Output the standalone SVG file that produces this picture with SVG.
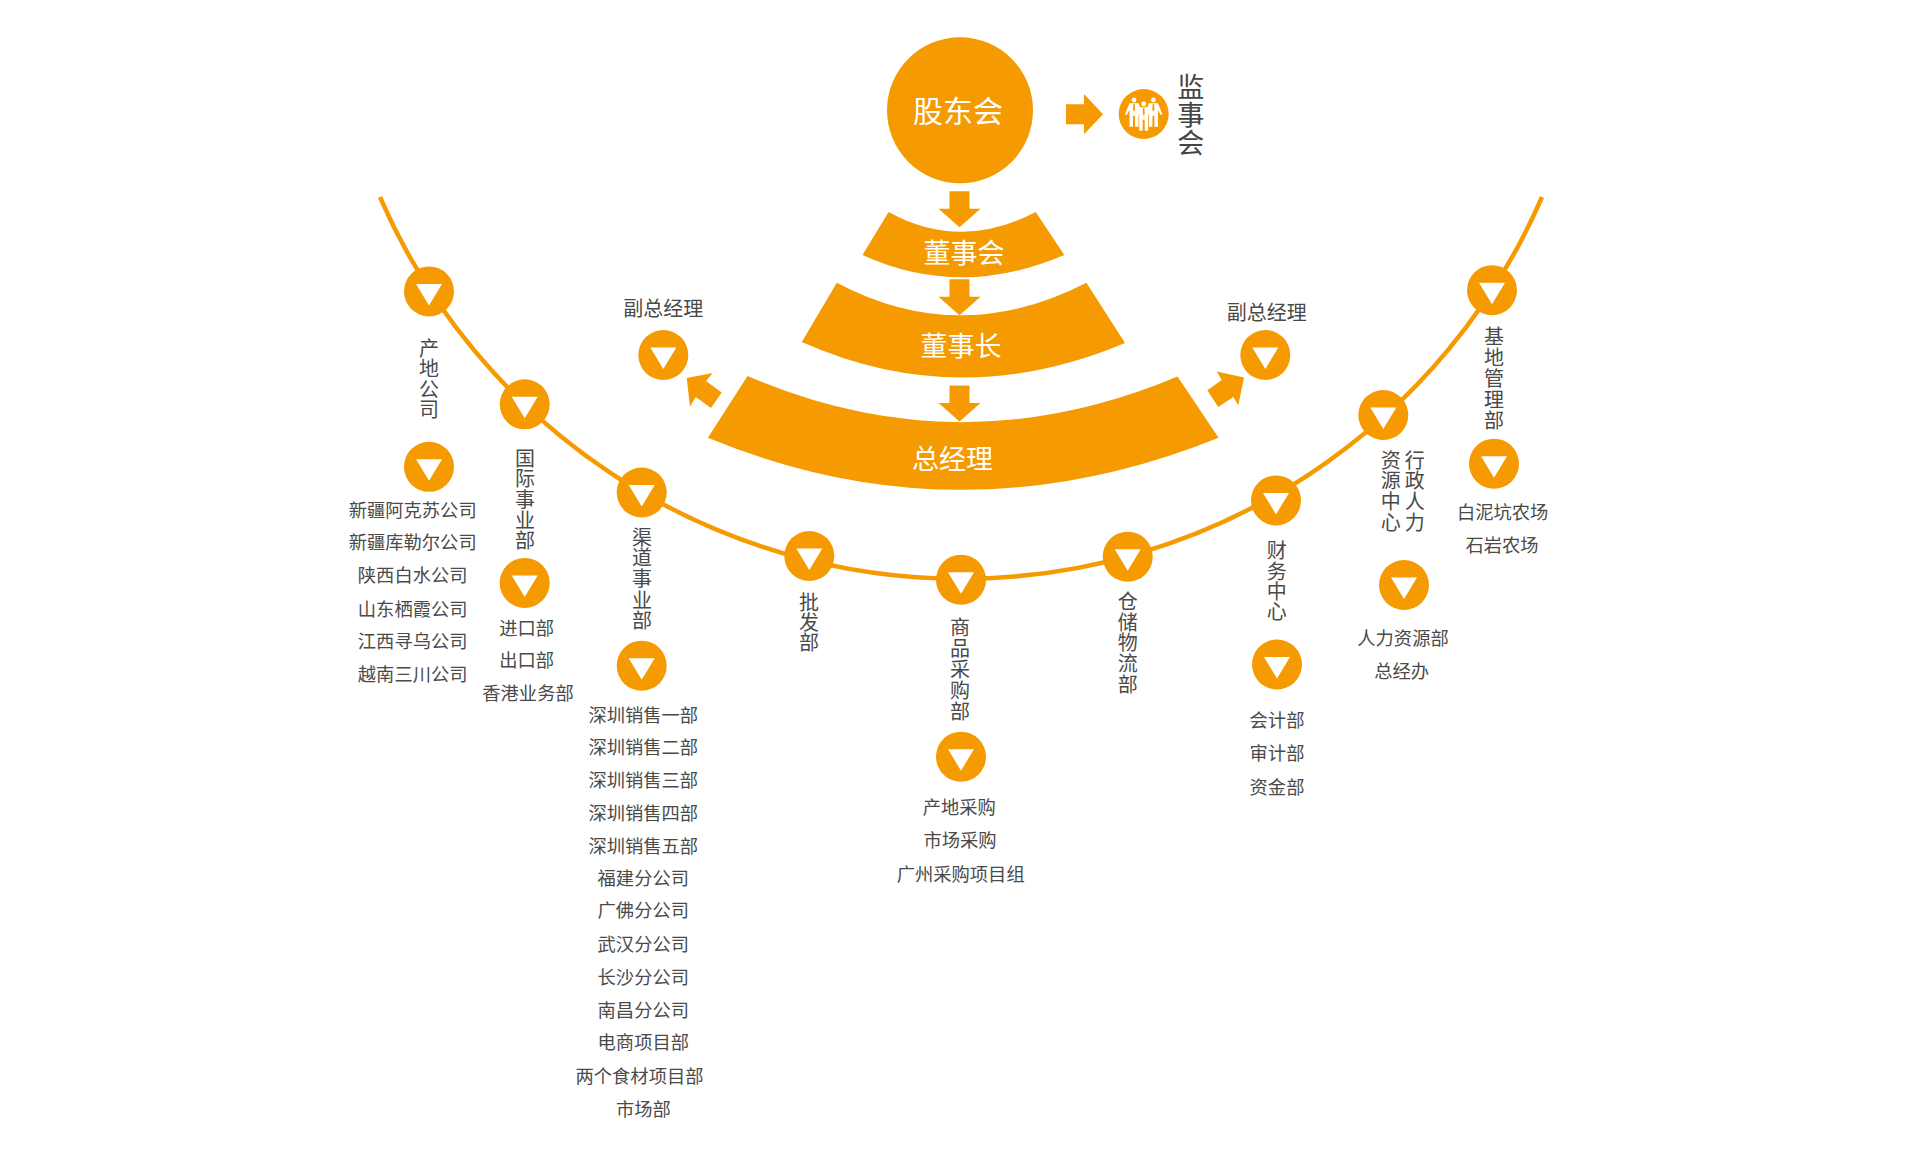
<svg xmlns="http://www.w3.org/2000/svg" xmlns:xlink="http://www.w3.org/1999/xlink" width="1920" height="1161" viewBox="0 0 1920 1161">
<style>
text{font-family:"Noto Sans CJK SC","Microsoft YaHei","Liberation Sans",sans-serif;text-anchor:middle;dominant-baseline:central;transform:translateY(-2px)}
.t{font-size:18.3px;fill:#4a4a4a}
.g{font-size:20px;fill:#4a4a4a}
.w{fill:#fff}
.o{fill:#f59a00}
.l{fill:none;stroke:#f59a00;stroke-width:4.5}
</style>
<defs>
<g id="dot"><circle r="25" fill="#f59a00"/><polygon points="-13,-7.5 13,-7.5 0,14" fill="#fff"/></g>
<path id="dn" d="M-10,0H10V17.4H21L0,36H0L-21,17.4H-10Z" fill="#f59a00"/>
<g id="man" fill="#fff"><circle cx="0" cy="2.3" r="2.4"/><path d="M-4.5,5.5H4.5L9,16.5L7.2,17.3L4.5,12V29H1V18H-1V29H-4.5V12L-7.2,17.3L-9,16.5Z"/><path d="M-0.7,6H0.7L1,12L0,14L-1,12Z" fill="#f59a00"/></g>
</defs>
<g id="connectors">
<path class="l" d="M380,197A633,633 0 0 0 1542,197"/>
<use xlink:href="#dn" href="#dn" x="959.5" y="191.3"/>
<use xlink:href="#dn" href="#dn" x="959.5" y="279.3"/>
<use xlink:href="#dn" href="#dn" x="959.5" y="385.5"/>
<polygon class="o" points="1066,104.3 1084,104.3 1084,94 1103,114.3 1084,134.3 1084,124.3 1066,124.3"/>
<polygon class="o" points="686.7,378 712.7,373 706,381 721.7,392.5 711,407.9 695.7,397 690,406.8"/>
<polygon class="o" points="1244,377.6 1216.7,371.4 1221.7,380 1207.3,390.2 1218.3,407 1233.3,397 1238.3,405.3"/>
</g>
<g id="gudong"><circle class="o" cx="960" cy="110.3" r="73"/><text class="w" x="958" y="111" font-size="30">股东会</text></g>
<g id="jianshi"><circle class="o" cx="1143.7" cy="114" r="25"/>
<use xlink:href="#man" href="#man" x="1134" y="97.7"/><use xlink:href="#man" href="#man" x="1153.4" y="97.7"/><use xlink:href="#man" href="#man" x="1143.7" y="101.7"/>
<text x="1190.7 1190.7 1190.7" y="87.7 115.7 143.3" font-size="27" fill="#444">监事会</text></g>
<g id="dongshihui"><path class="o" d="M888.6,212 Q960,251.5 1035.7,212 L1064.3,255 Q960,299.5 862.5,255Z"/><text class="w" x="964" y="253" font-size="27">董事会</text></g>
<g id="dongshizhang"><path class="o" d="M836.8,282.7 Q960,348 1086.4,282.7 L1125,343 Q960,412.5 801.8,342Z"/><text class="w" x="961" y="346.7" font-size="27">董事长</text></g>
<g id="zongjingli"><path class="o" d="M747.5,376 Q960,468 1177.5,376.5 L1218.6,437.7 Q960,542 707.9,437.7Z"/><text class="w" x="952.5" y="459" font-size="27">总经理</text></g>
<g id="fuzong-l"><text class="g" x="663.3" y="309.3">副总经理</text><use xlink:href="#dot" href="#dot" x="663.3" y="355"/></g>
<g id="fuzong-r"><text class="g" x="1266.7" y="313">副总经理</text><use xlink:href="#dot" href="#dot" x="1265.3" y="355"/></g>
<g id="chandi"><use xlink:href="#dot" href="#dot" x="429" y="291.4"/><text class="g" x="429 429 429 429" y="349 369 390 410">产地公司</text><use xlink:href="#dot" href="#dot" x="429" y="466.8"/>
<text class="t" x="412.7" y="511">新疆阿克苏公司</text><text class="t" x="412.7" y="543">新疆库勒尔公司</text><text class="t" x="412.7" y="576.4">陕西白水公司</text><text class="t" x="412.7" y="609.6">山东栖霞公司</text><text class="t" x="412.7" y="641.8">江西寻乌公司</text><text class="t" x="412.7" y="674.6">越南三川公司</text></g>
<g id="guoji"><use xlink:href="#dot" href="#dot" x="524.7" y="404.3"/><text class="g" x="525 525 525 525 525" y="459 479 500 521 541">国际事业部</text><use xlink:href="#dot" href="#dot" x="524.7" y="582.9"/>
<text class="t" x="526.7" y="629">进口部</text><text class="t" x="526.7" y="661.4">出口部</text><text class="t" x="528" y="694">香港业务部</text></g>
<g id="qudao"><use xlink:href="#dot" href="#dot" x="641.7" y="492.5"/><text class="g" x="642 642 642 642 642" y="538 558.6 579 601 621">渠道事业部</text><use xlink:href="#dot" href="#dot" x="641.7" y="665.7"/>
<text class="t" x="643.3" y="716">深圳销售一部</text><text class="t" x="643.3" y="748.3">深圳销售二部</text><text class="t" x="643.3" y="781">深圳销售三部</text><text class="t" x="643.3" y="814">深圳销售四部</text><text class="t" x="643.3" y="846.7">深圳销售五部</text><text class="t" x="643.3" y="879">福建分公司</text><text class="t" x="643.3" y="911">广佛分公司</text><text class="t" x="643.3" y="945">武汉分公司</text><text class="t" x="643.3" y="978">长沙分公司</text><text class="t" x="643.3" y="1011">南昌分公司</text><text class="t" x="643.3" y="1043.3">电商项目部</text><text class="t" x="639.5" y="1077">两个食材项目部</text><text class="t" x="643.3" y="1110">市场部</text></g>
<g id="pifa"><use xlink:href="#dot" href="#dot" x="809.3" y="556"/><text class="g" x="809 809 809" y="603 623 643">批发部</text></g>
<g id="shangpin"><use xlink:href="#dot" href="#dot" x="961" y="579.7"/><text class="g" x="960 960 960 960 960" y="628.3 649 670.7 691.7 712.3">商品采购部</text><use xlink:href="#dot" href="#dot" x="961" y="756.7"/>
<text class="t" x="959.3" y="808.3">产地采购</text><text class="t" x="960" y="841">市场采购</text><text class="t" x="960.7" y="874.5">广州采购项目组</text></g>
<g id="cangchu"><use xlink:href="#dot" href="#dot" x="1127.7" y="556.7"/><text class="g" x="1127.7 1127.7 1127.7 1127.7 1127.7" y="602 623 643 664.5 685">仓储物流部</text></g>
<g id="caiwu"><use xlink:href="#dot" href="#dot" x="1276" y="500.4"/><text class="g" x="1276.7 1276.7 1276.7 1276.7" y="551 572 592 612.6">财务中心</text><use xlink:href="#dot" href="#dot" x="1277" y="664.5"/>
<text class="t" x="1277" y="721">会计部</text><text class="t" x="1277" y="754">审计部</text><text class="t" x="1277" y="787.5">资金部</text></g>
<g id="xingzheng"><use xlink:href="#dot" href="#dot" x="1383.3" y="415"/><text class="g" x="1414.7 1414.7 1414.7 1414.7" y="461.6 481 502.4 523.7">行政人力</text><text class="g" x="1390.7 1390.7 1390.7 1390.7" y="461.6 481 502.4 523.7">资源中心</text><use xlink:href="#dot" href="#dot" x="1404" y="585"/>
<text class="t" x="1403" y="639">人力资源部</text><text class="t" x="1401.7" y="672">总经办</text></g>
<g id="jidi"><use xlink:href="#dot" href="#dot" x="1492" y="290.2"/><text class="g" x="1494 1494 1494 1494 1494" y="337.6 358 379 400 421">基地管理部</text><use xlink:href="#dot" href="#dot" x="1494" y="463.7"/>
<text class="t" x="1502.7" y="513">白泥坑农场</text><text class="t" x="1502" y="546">石岩农场</text></g>
</svg>
